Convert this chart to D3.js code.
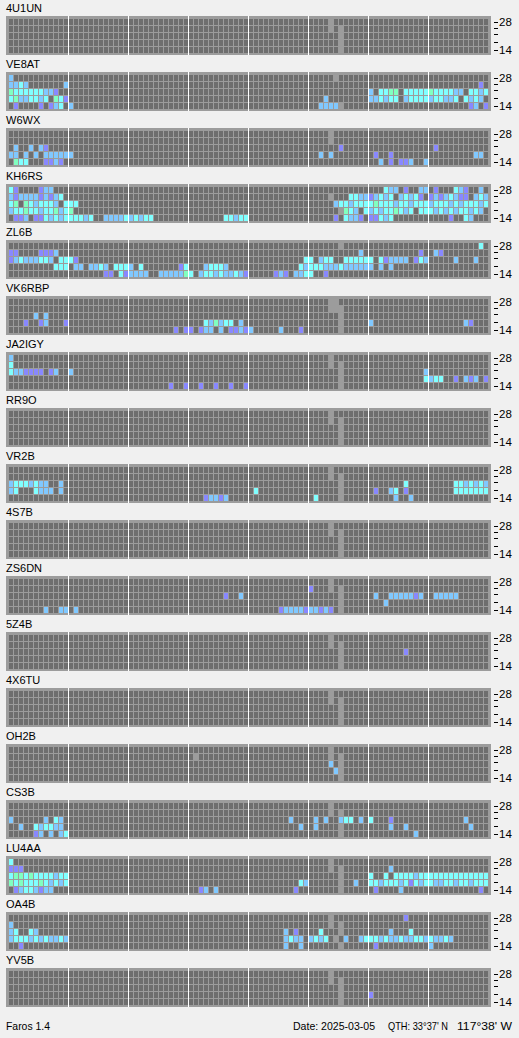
<!DOCTYPE html>
<html>
<head>
<meta charset="utf-8">
<script src="https://cdn.jsdelivr.net/npm/d3@7"></script>
<style>
  body { margin: 0; background: #f0f0f0; }
  svg { display: block; font-family: "Liberation Sans", Arial, sans-serif; }
</style>
</head>
<body>
<svg id="chart" width="519" height="1038"></svg>
<script>
// time slots (15 min each, 24 h) and band rows, top row = 28 MHz
const slots = d3.range(96);
const bands = [28, 24, 21, 18, 14];
const tickLabels = ["28", "", "", "", "14"];

// each row: "startSlot:codes" runs, '.' = no signal
// c cyan, b light blue, p periwinkle, g mint, x not monitored
const cells_4U1UN = ["64:x", "64:x.x", "66:x", "66:x", "66:x"];
const cells_VE8AT = [
  "0:b 65:x",
  "0:bbcb 11:b 94:p",
  "0:gccccccbbp 72:b.ccgg.cccccgccccbb.ccbc",
  "0:cgbbccbc.gcp 63:b 72:bbcbcc.bccccbccbbc.cbcb",
  "1:p 6:p.pbc.b 62:bbbbx 92:pb.p"
];
const cells_W6WX = [
  "64:x",
  "64:x",
  "1:b..b.bp 66:p 85:p",
  "0:bb.b.b.bbbbbb 62:b.b 73:p..p 93:bb",
  "1:gcc...ppbp 74:b.p.ppb..b"
];
const cells_KH6RS = [
  "0:cp....pbb 75:cbb.p..bb.p...cbp..b",
  "0:bpbbbbpbpbc 64:x...ccbbpbcbc.bcbcp.pbpbcbpp.bcb",
  "0:cg.gcbcccb.ccc 65:bccbccccgcccbccbcccbcccbcbcccbc",
  "0:bccgccbccgbcg 66:xgcb.cbcbccgcbc.cccbcbcbccbcb",
  "1:ppb.ppcbcbccccbc 19:bbbbcbcbcc 43:ccbcc 65:p.cbbp.ppcbc 88:p..cb"
];
const cells_ZL6B = [
  "66:x 94:c",
  "0:pp....pppb 70:b 82:p..bp",
  "0:pbcbbbccb.cccp 59:cc.bcc..cccccc.cpbbbb.pcb 89:b 93:b",
  "9:ccc.bb.bbcb.cccb.c 34:pc 39:bcccb 58:cbcccbbbcbbbbbb.b.b",
  "19:pp.cpbbbb..bbbbbgc.bccbcbbcbp 53:pbp.bbcc..p"
];
const cells_VK6RBP = [
  "64:xx",
  "64:xxx",
  "5:b.b 66:x",
  "3:p..pb...p 39:cbgbcc.b 66:x 72:b 91:bp",
  "33:p.pp.pbb.b.ppbpb 54:b 58:p 66:x"
];
const cells_JA2IGY = [
  "0:b 64:x",
  "0:c 64:x.x",
  "0:cbbpppp.pb..b 66:x 83:b",
  "66:x 83:cbcc..p.bpb.p",
  "32:p..p..p..p..p..p 66:x"
];
const cells_RR9O = ["64:x", "64:x.x", "66:x", "66:x", "66:x"];
const cells_VR2B = [
  "64:x",
  "64:x.x",
  "0:bcccbcbb..b 66:x 79:c 89:ccbcbcb",
  "0:bc...cbbb.b 49:c 66:x 73:p..bc.p 89:ccccccc",
  "39:pbbpb 61:c 66:x 77:b 80:b"
];
const cells_4S7B = ["64:x", "64:x.x", "66:x", "66:x", "66:x"];
const cells_ZS6DN = [
  "64:x",
  "60:p 64:x.x",
  "43:p 46:b 66:x 73:b..bbbbbpb..bbbbb",
  "66:x 75:b",
  "7:b..bb.b 54:pbbbbpbbpbp.b 66:x"
];
const cells_5Z4B = ["64:x", "64:x.x", "66:x 79:p", "66:x", "66:x"];
const cells_4X6TU = ["64:x", "64:x.x", "66:x", "66:x", "66:x"];
const cells_OH2B = ["64:x", "37:x 64:x.x", "64:b.x", "65:bx", "66:x"];
const cells_CS3B = [
  "64:x",
  "64:x.x",
  "0:b 7:b.cb 56:b....b.b..bcc.b.c...p 91:b",
  "2:b..cbccbb 58:b..b 66:x 76:b..b 92:b",
  "5:pb.b.bc 66:x 81:b"
];
const cells_LU4AA = [
  "0:c 64:x",
  "0:ppp 64:x.x 76:b",
  "0:cggcgccccbcc 66:x 72:c..c.ccccbccccccccccccccc",
  "0:gcgcccgcbcbc 58:cb 66:x 69:b 72:ccbcccbcpcbccbbccbccbcccc",
  "1:pbccbpbb 38:pb.b 57:p 66:x 73:p 78:b 94:p"
];
const cells_OA4B = [
  "64:x 79:p",
  "0:b 64:x.x",
  "0:bc..cb 55:b.p 62:c 66:x 76:b 80:c",
  "0:bcccbcbcbbcb 55:bcbb.bcbc.x.b..bcccbcbbcbbccbcbbcb",
  "2:p 55:b..b 66:x 73:p 84:b"
];
const cells_YV5B = ["64:x", "64:x.x", "66:x", "66:x 72:p", "66:x"];

const panels = [
  ["4U1UN", cells_4U1UN], ["VE8AT", cells_VE8AT], ["W6WX", cells_W6WX],
  ["KH6RS", cells_KH6RS], ["ZL6B", cells_ZL6B], ["VK6RBP", cells_VK6RBP],
  ["JA2IGY", cells_JA2IGY], ["RR9O", cells_RR9O], ["VR2B", cells_VR2B],
  ["4S7B", cells_4S7B], ["ZS6DN", cells_ZS6DN], ["5Z4B", cells_5Z4B],
  ["4X6TU", cells_4X6TU], ["OH2B", cells_OH2B], ["CS3B", cells_CS3B],
  ["LU4AA", cells_LU4AA], ["OA4B", cells_OA4B], ["YV5B", cells_YV5B]
];

const colors = {
  ".": "#6e6e6e", x: "#9c9c9c",
  c: "#80ffff", b: "#80c8ff", p: "#8888ff", g: "#80ffc0"
};

function parseRows(rows) {
  const grid = rows.map(() => slots.map(() => "."));
  rows.forEach((spec, r) => {
    spec.split(" ").filter(s => s).forEach(tok => {
      const [start, codes] = tok.split(":");
      codes.split("").forEach((ch, i) => {
        const c = +start + i;
        if (c < 96 && ch !== ".") grid[r][c] = ch;
      });
    });
  });
  return grid;
}

const svg = d3.select("#chart");
const pitch = 56, top0 = 16;

const x = d3.scaleBand().domain(slots).range([9, 488]).paddingInner(0.2).paddingOuter(0);
const y = d3.scaleBand().domain(d3.range(bands.length)).range([3, 37]).paddingInner(1 / 7).paddingOuter(0);
const tickY = [5.7, 11.7, 17.7, 26.3, 33.7];

panels.forEach(([name, rows], i) => {
  const g = svg.append("g").attr("transform", `translate(0,${top0 + i * pitch})`);
  g.append("text").attr("x", 6).attr("y", -4).attr("font-size", 11).attr("fill", "#000").text(name);
  g.append("rect").attr("x", 6).attr("y", 0).attr("width", 485).attr("height", 39).attr("fill", colors.x);

  const grid = parseRows(rows);
  const flat = [];
  grid.forEach((row, r) => row.forEach((ch, c) => flat.push({ r, c, ch })));
  g.selectAll("rect.cell").data(flat).enter().append("rect")
    .attr("class", "cell")
    .attr("x", d => x(d.c))
    .attr("y", d => y(d.r))
    .attr("width", x.bandwidth())
    .attr("height", y.bandwidth())
    .attr("fill", d => colors[d.ch] || colors["."]);

  // 3-hour separators
  g.selectAll("line.sep").data(d3.range(12, 96, 12)).enter().append("line")
    .attr("x1", d => Math.round(x(d)) - 0.5).attr("x2", d => Math.round(x(d)) - 0.5)
    .attr("y1", 0).attr("y2", 39)
    .attr("stroke", "#fff").attr("stroke-width", 1);

  // band ticks on the right
  tickY.forEach((ty, k) => {
    g.append("line").attr("x1", 494).attr("x2", 498).attr("y1", Math.round(ty) + 0.5).attr("y2", Math.round(ty) + 0.5)
      .attr("stroke", "#000");
    if (tickLabels[k]) {
      g.append("text").attr("x", 499).attr("y", ty + 4).attr("font-size", 11.5).text(tickLabels[k]);
    }
  });
});

// footer, widths matched to the original window text
const footer = [
  ["Faros 1.4", 6, 44],
  ["Date: 2025-03-05", 293, 82],
  ["QTH: 33°37' N", 388, 60],
  ["117°38' W", 457, 55]
];
footer.forEach(([t, fx, w]) => {
  svg.append("text").attr("x", fx).attr("y", 1030).attr("font-size", 11)
    .attr("textLength", w).attr("lengthAdjust", "spacingAndGlyphs").text(t);
});
</script>
</body>
</html>
